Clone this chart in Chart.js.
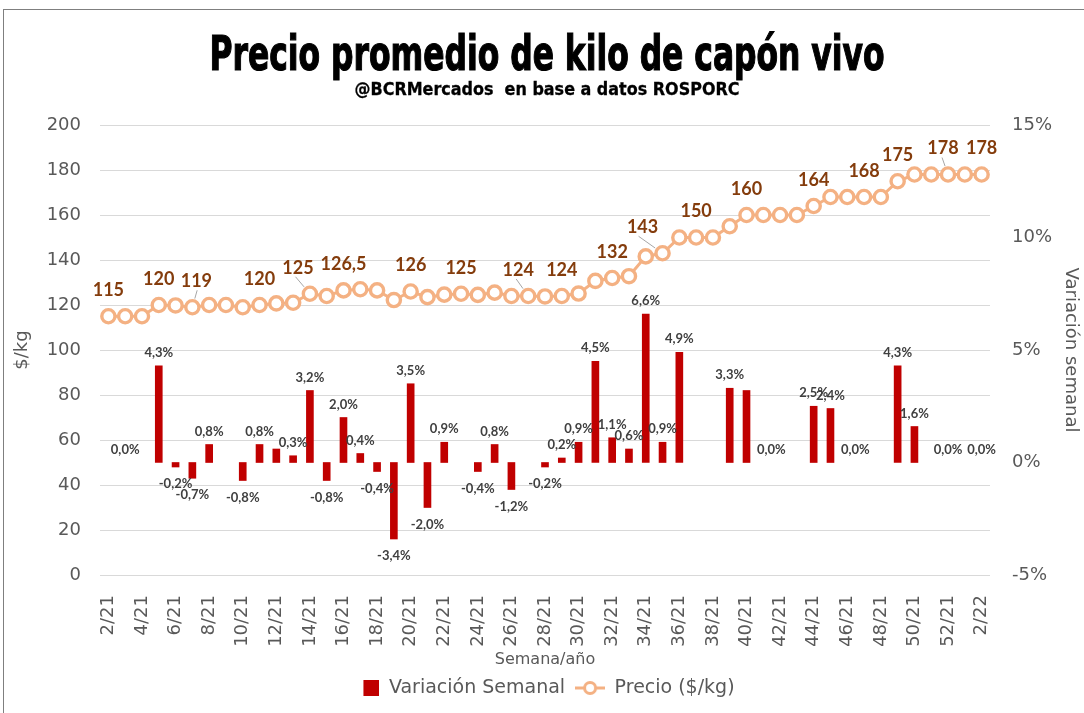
<!DOCTYPE html>
<html lang="es">
<head>
<meta charset="utf-8">
<title>Precio promedio de kilo de capón vivo</title>
<script src="https://cdn.jsdelivr.net/npm/chart.js@4.4.1/dist/chart.umd.min.js"></script>
<style>
  html, body { margin: 0; padding: 0; background: #fff; overflow: hidden; }
  #wrap { position: relative; width: 1084px; height: 713px; }
  #frame { position: absolute; left: 3px; top: 9px; width: 1100px; height: 720px; border: 1.5px solid #7f7f7f; box-sizing: border-box; }
  #chart { position: absolute; left: 0; top: 0; }
</style>
</head>
<body>
<div id="wrap">
  <div id="frame"></div>
  <canvas id="chart" width="1084" height="713"></canvas>
</div>
<script>
const titulo = "Precio promedio de kilo de capón vivo";
const subtitulo = "@BCRMercados  en base a datos ROSPORC";

// semanas 2/21 a 2/22
const semanas = [
  "2/21", "3/21", "4/21", "5/21", "6/21", "7/21", "8/21", "9/21", "10/21", "11/21",
  "12/21", "13/21", "14/21", "15/21", "16/21", "17/21", "18/21", "19/21", "20/21", "21/21",
  "22/21", "23/21", "24/21", "25/21", "26/21", "27/21", "28/21", "29/21", "30/21", "31/21",
  "32/21", "33/21", "34/21", "35/21", "36/21", "37/21", "38/21", "39/21", "40/21", "41/21",
  "42/21", "43/21", "44/21", "45/21", "46/21", "47/21", "48/21", "49/21", "50/21", "51/21",
  "52/21", "1/22", "2/22"
];

const xTickLabels = [
  "2/21", "4/21", "6/21", "8/21", "10/21", "12/21", "14/21", "16/21", "18/21", "20/21",
  "22/21", "24/21", "26/21", "28/21", "30/21", "32/21", "34/21", "36/21", "38/21", "40/21",
  "42/21", "44/21", "46/21", "48/21", "50/21", "52/21", "2/22"
];

// precio $/kg
const precio = [
  115, 115, 115, 120, 119.8, 119, 120, 120, 119, 120,
  120.7, 121, 125, 124, 126.5, 127, 126.5, 122.2, 126, 123.5,
  124.6, 125, 124.5, 125.5, 124, 124, 123.8, 124, 125.1, 130.7,
  132, 132.8, 141.6, 143, 150, 150, 150, 155, 160, 160,
  160, 160, 164, 168, 168, 168, 168, 175, 178, 178,
  178, 178, 178
];

// variacion semanal en %
const variacion = [
  null, 0, null, 4.3, -0.2, -0.7, 0.8, null, -0.8, 0.8,
  0.6, 0.3, 3.2, -0.8, 2.0, 0.4, -0.4, -3.4, 3.5, -2.0,
  0.9, null, -0.4, 0.8, -1.2, null, -0.2, 0.2, 0.9, 4.5,
  1.1, 0.6, 6.6, 0.9, 4.9, null, null, 3.3, 3.2, 0,
  null, null, 2.5, 2.4, 0, null, null, 4.3, 1.6, null,
  0, null, 0
];

const priceLabelWeeks = [
  "2/21", "5/21", "7/21", "11/21", "14/21", "16/21", "20/21", "23/21", "27/21", "29/21",
  "32/21", "35/21", "37/21", "40/21", "44/21", "47/21", "49/21", "52/21", "2/22"
];
const hiddenVarLabels = ["12/21", "40/21"];

const priceLabelShift = { "7/21": 4, "14/21": -12, "27/21": -10, "35/21": -20, "52/21": -5 };
const varLabelShift = { "41/21": 8, "46/21": 8 };

const BAR_COLOR = "#C00000";
const LINE_COLOR = "#F4B183";
const AXIS_COLOR = "#595959";

function formatNum(v, digits) {
  return v.toFixed(digits).replace(".", ",");
}

function legendIcon(kind) {
  const c = document.createElement("canvas");
  c.width = 30;
  c.height = 18;
  const g = c.getContext("2d");
  if (kind === "bar") {
    g.fillStyle = BAR_COLOR;
    g.fillRect(14, 1, 16, 16);
  } else {
    g.strokeStyle = LINE_COLOR;
    g.lineWidth = 3;
    g.beginPath();
    g.moveTo(0, 9);
    g.lineTo(30, 9);
    g.stroke();
    g.beginPath();
    g.arc(15, 9, 5.5, 0, Math.PI * 2);
    g.fillStyle = "#fff";
    g.fill();
    g.stroke();
  }
  return c;
}

// texto condensado a un ancho dado
function drawFitted(ctx, text, font, cx, baseline, width, stroke) {
  ctx.save();
  ctx.font = font;
  const s = width / ctx.measureText(text).width;
  ctx.translate(cx, baseline);
  ctx.scale(s, 1);
  ctx.textAlign = "center";
  ctx.textBaseline = "alphabetic";
  ctx.fillStyle = "#000";
  ctx.fillText(text, 0, 0);
  if (stroke) {
    ctx.strokeStyle = "#000";
    ctx.lineWidth = stroke;
    ctx.strokeText(text, 0, 0);
  }
  ctx.restore();
}

const titleBlock = {
  id: "titleBlock",
  afterDraw(chart) {
    const ctx = chart.ctx;
    drawFitted(ctx, titulo, "bold 48px 'DejaVu Sans Condensed', 'DejaVu Sans', sans-serif", 547, 70, 675, 1.2);
    drawFitted(ctx, subtitulo, "bold 18px 'DejaVu Sans Condensed', 'DejaVu Sans', sans-serif", 547, 95, 385, 0.3);
  }
};

const valueLabels = {
  id: "valueLabels",
  afterDatasetsDraw(chart) {
    const ctx = chart.ctx;
    const lineMeta = chart.getDatasetMeta(0);
    const barMeta = chart.getDatasetMeta(1);
    ctx.save();
    ctx.textAlign = "center";
    ctx.textBaseline = "middle";

    ctx.font = "bold 13px Lato";
    ctx.fillStyle = "#404040";
    variacion.forEach((v, i) => {
      if (v === null || hiddenVarLabels.includes(semanas[i])) return;
      const bar = barMeta.data[i];
      const dx = varLabelShift[semanas[i]] || 0;
      const y = v >= 0 ? bar.y - 13 : bar.y + 17;
      ctx.fillText(formatNum(v, 1) + "%", bar.x + dx, y);
    });

    ctx.font = "bold 18px Lato";
    priceLabelWeeks.forEach((w) => {
      const i = semanas.indexOf(w);
      const pt = lineMeta.data[i];
      const dx = priceLabelShift[w] || 0;
      const lx = pt.x + dx;
      const ly = pt.y - 26;
      if (dx) {
        const sx = lx + dx * 0.2, sy = ly + 9;
        const vx = pt.x - sx, vy = pt.y - sy;
        const d = Math.hypot(vx, vy);
        if (d > 11) {
          ctx.strokeStyle = "#a6a6a6";
          ctx.lineWidth = 1;
          ctx.beginPath();
          ctx.moveTo(sx, sy);
          ctx.lineTo(pt.x - vx / d * 9, pt.y - vy / d * 9);
          ctx.stroke();
        }
      }
      ctx.fillStyle = "#843C0C";
      const v = precio[i];
      ctx.fillText(Number.isInteger(v) ? String(v) : formatNum(v, 1), lx, ly);
    });
    ctx.restore();
  }
};

Chart.defaults.font.family = "'DejaVu Sans', sans-serif";

new Chart(document.getElementById("chart"), {
  type: "bar",
  data: {
    labels: semanas,
    datasets: [
      {
        type: "line",
        label: "Precio ($/kg)",
        data: precio,
        yAxisID: "y",
        borderColor: LINE_COLOR,
        borderWidth: 3,
        pointRadius: 6.6,
        pointBorderWidth: 3.4,
        pointBackgroundColor: "#fff",
        pointBorderColor: LINE_COLOR,
        tension: 0
      },
      {
        type: "bar",
        label: "Variación Semanal",
        data: variacion,
        yAxisID: "y1",
        backgroundColor: (c) => (c.raw === 0 ? "rgba(0,0,0,0)" : BAR_COLOR),
        barThickness: 7
      }
    ]
  },
  options: {
    responsive: false,
    animation: false,
    layout: { padding: { top: 125, left: 0, right: 0, bottom: 5.5 } },
    plugins: {
      tooltip: { enabled: false },
      title: { display: false },
      legend: {
        position: "bottom",
        labels: {
          usePointStyle: true,
          pointStyleWidth: 30,
          padding: 10,
          color: AXIS_COLOR,
          font: { size: 19 },
          generateLabels: () => [
            { text: "Variación Semanal", pointStyle: legendIcon("bar"), fillStyle: BAR_COLOR, strokeStyle: BAR_COLOR, lineWidth: 0, hidden: false, datasetIndex: 1, fontColor: AXIS_COLOR },
            { text: "Precio ($/kg)", pointStyle: legendIcon("line"), fillStyle: "#fff", strokeStyle: LINE_COLOR, lineWidth: 0, hidden: false, datasetIndex: 0, fontColor: AXIS_COLOR }
          ]
        }
      }
    },
    scales: {
      x: {
        grid: { display: false },
        border: { display: false },
        afterFit: (scale) => { scale.height = 93.5; },
        ticks: {
          autoSkip: false,
          maxRotation: 90,
          minRotation: 90,
          padding: 12,
          color: AXIS_COLOR,
          font: { size: 18 },
          callback: (val, idx) => (xTickLabels.includes(semanas[idx]) ? semanas[idx] : "")
        },
        title: { display: true, text: "Semana/año", color: AXIS_COLOR, font: { size: 16 }, padding: { top: 0, bottom: -1 } }
      },
      y: {
        position: "left",
        min: 0,
        max: 200,
        afterFit: (scale) => { scale.width = 100; },
        grid: { color: "#D9D9D9", lineWidth: 1, drawTicks: false },
        border: { display: false },
        ticks: { stepSize: 20, padding: 19, color: AXIS_COLOR, font: { size: 18 } },
        title: { display: true, text: "$/kg", color: AXIS_COLOR, font: { size: 18 }, padding: { top: 12, bottom: 0 } }
      },
      y1: {
        position: "right",
        min: -5,
        max: 15,
        afterFit: (scale) => { scale.width = 94; },
        grid: { display: false, drawTicks: false },
        border: { display: false },
        ticks: { stepSize: 5, padding: 22, color: AXIS_COLOR, font: { size: 18 }, callback: (v) => v + "%" },
        title: { display: true, text: "Variación semanal", color: AXIS_COLOR, font: { size: 18 }, padding: { top: 3, bottom: 0 } }
      }
    }
  },
  plugins: [valueLabels, titleBlock]
});
</script>
</body>
</html>
